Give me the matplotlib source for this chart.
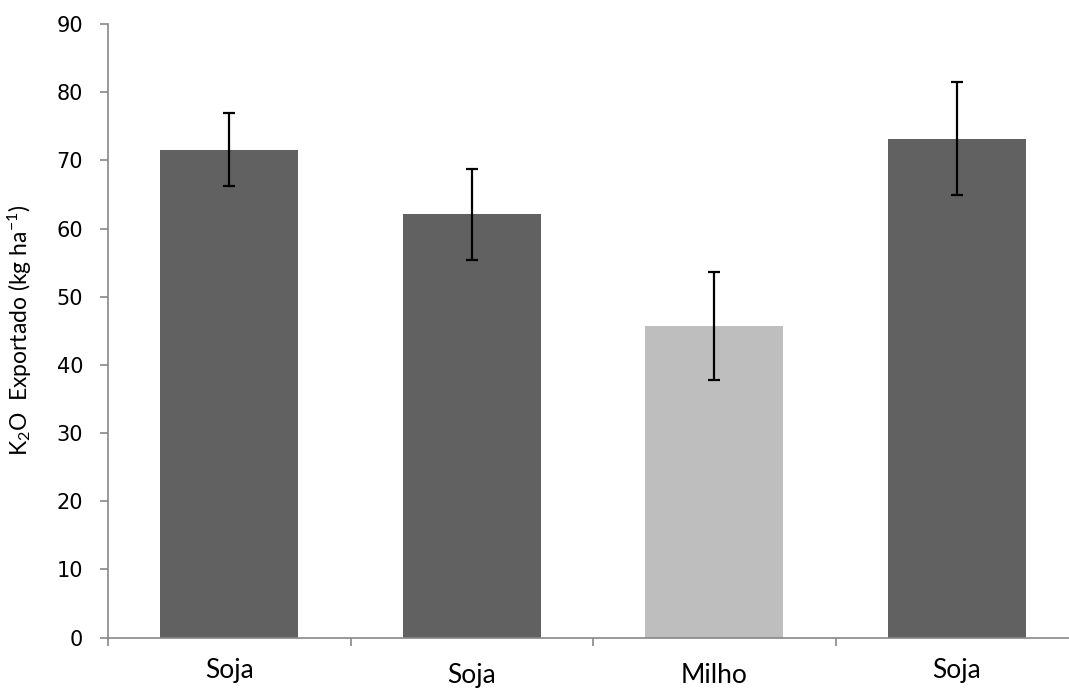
import matplotlib
matplotlib.use("Agg")
import matplotlib.pyplot as plt
import numpy as np

plt.rcParams["mathtext.fontset"] = "custom"
plt.rcParams["mathtext.rm"] = "Lato"
plt.rcParams["mathtext.it"] = "Lato:italic"
plt.rcParams["mathtext.default"] = "rm"

categories = ["Soja", "Soja", "Milho", "Soja"]
values = [71.6, 62.1, 45.7, 73.2]
errors = [5.4, 6.7, 7.95, 8.25]
bar_colors = ["#616161", "#616161", "#BEBEBE", "#616161"]
yticks = [0, 10, 20, 30, 40, 50, 60, 70, 80, 90]
label_pads = [14.5, 18.5, 18.5, 14.5]

fig = plt.figure(figsize=(10.69, 6.88), dpi=100)
ax = fig.add_axes([108/1069, 1 - 637.6/688, (1078 - 108)/1069, (637.6 - 24.1)/688])

x = np.arange(len(categories))
ax.bar(x, values, width=0.57, color=bar_colors, zorder=2)
ax.errorbar(x, values, yerr=errors, fmt="none", ecolor="black", elinewidth=1.6,
            capsize=4, capthick=1.6, zorder=3)

ax.set_xlim(-0.5, len(categories) - 0.5)
ax.set_ylim(0, 90)
ax.set_yticks(yticks)
ax.set_yticklabels([str(v) for v in yticks], family="DejaVu Sans", fontsize=15)
ax.set_xticks(x)
ax.set_xticklabels(categories, fontsize=19, family="Lato")
ax.set_xticks(np.arange(-0.5, len(categories) + 0.5, 1), minor=True)
ax.tick_params(axis="x", which="major", length=0)
ax.tick_params(axis="x", which="minor", length=6, width=1.2, color="#888888", direction="out")
ax.tick_params(axis="y", length=6, width=1.2, color="#888888", direction="out", pad=12)
for t, p in zip(ax.xaxis.get_major_ticks(), label_pads):
    t.set_pad(p)

for s in ["top", "right"]:
    ax.spines[s].set_visible(False)
for s in ["left", "bottom"]:
    ax.spines[s].set_color("#888888")
    ax.spines[s].set_linewidth(1.2)

ax.set_ylabel(r"K$_2$O  Exportado (kg ha$^{-1}$)", fontsize=16.5, family="Lato")
ax.yaxis.set_label_coords(-0.076, 0.5)

fig.savefig("out.png", dpi=100)
